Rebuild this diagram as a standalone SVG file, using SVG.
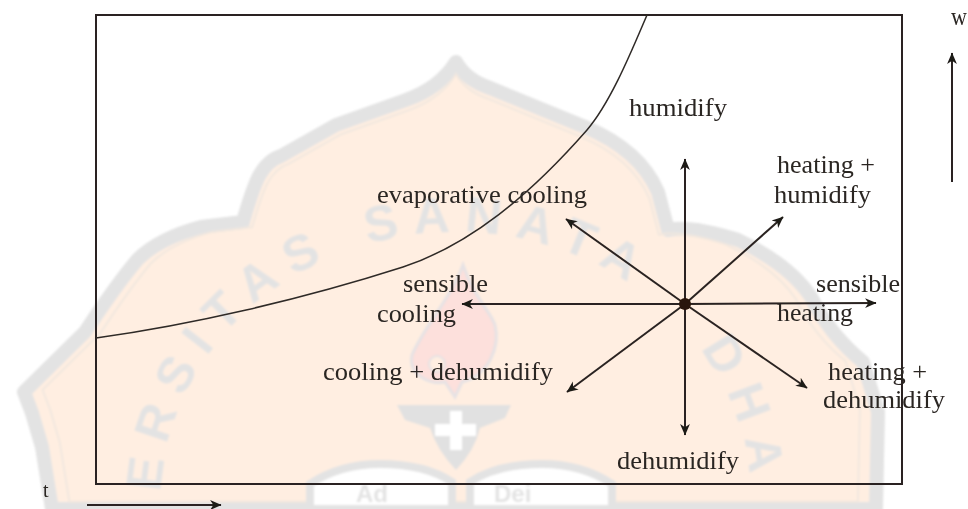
<svg xmlns="http://www.w3.org/2000/svg" width="968" height="509" viewBox="0 0 968 509">
<style>
.lbl{font-family:"Liberation Serif","Times New Roman",serif;font-size:25px;fill:#2b2623}
.wm{font-family:"Liberation Sans",Arial,sans-serif;font-weight:700;fill:#e3e3e3}
.ln{fill:none;stroke:#2a2420;stroke-width:2}
</style>
<defs>
<filter id="b1" x="-5%" y="-5%" width="110%" height="110%"><feGaussianBlur stdDeviation="1.1"/></filter>
<filter id="b2" x="-5%" y="-5%" width="110%" height="110%"><feGaussianBlur stdDeviation="0.5"/></filter>
<marker id="ah" markerUnits="userSpaceOnUse" markerWidth="12" markerHeight="12" refX="10" refY="5" orient="auto" viewBox="0 0 11 10"><path d="M0 0.5L10.5 5L0 9.5L3 5Z" fill="#1f1a17"/></marker>
<path id="seal" d="M52 509L42 447L32 413L24 392L85 332Q116 285 138 259Q160 238 201 227L243 222Q252 190 259 176Q268 160 281 156L336 125L406 100Q440 88 456 62Q466 80 490 88L585 127Q640 150 658 192L668 230Q690 225 738 240Q790 265 811 297Q830 335 863 362L878 412L876 509Z"/>
<path id="arc" d="M161 500A295 268 0 0 1 751 500"/>
</defs>
<rect width="968" height="509" fill="#fff"/>
<g id="watermark" filter="url(#b1)">
<use href="#seal" fill="#ffeee1" stroke="#e3e3e3" stroke-width="14" stroke-linejoin="round"/>
<use href="#seal" fill="none" stroke="#f1e7df" stroke-width="2" transform="translate(456 340) scale(.957) translate(-456 -340)"/>
<text class="wm" font-size="50" letter-spacing="14"><textPath href="#arc" startOffset="8">ERSITAS<tspan dx="34">SANATA</tspan><tspan dx="84">DHA</tspan></textPath></text>
<path d="M463 265C450 300 425 325 412 355C408 375 430 385 445 382L455 397L462 382C490 375 500 345 495 325C490 310 475 300 463 265Z" fill="#fde0dc" stroke="#e6e2e4" stroke-width="3"/>
<circle cx="437" cy="364" r="8" fill="#ffeee1" stroke="#e6e2e4" stroke-width="2"/>
<path d="M397 405L511 405L505 418L480 428Q475 450 456 470Q437 450 430 428L405 420Z" fill="#e1e1e1"/>
<path d="M450 411H462V424H476V436H462V450H450V436H435V424H450Z" fill="#fff"/>
<path d="M310 509V484Q340 464 380 464Q425 464 452 482V509Z" fill="#fff" stroke="#e3e3e3" stroke-width="8"/>
<path d="M612 509V484Q582 464 542 464Q497 464 470 482V509Z" fill="#fff" stroke="#e3e3e3" stroke-width="8"/>
<text class="wm" x="356" y="502" font-size="24">Ad</text>
<text class="wm" x="494" y="502" font-size="24">Dei</text>
</g>
<g id="frame" filter="url(#b2)"><rect class="ln" x="96" y="15" width="806" height="469"/></g>
<g id="connectors" filter="url(#b2)">
<path id="saturation-curve" d="M96 338C190 325 300 300 403 267C470 245 530 195 587 130C611 102 632 50 647 15" fill="none" stroke="#2f2a27" stroke-width="1.5"/>
<g class="ln">
<line x1="685" y1="304" x2="685" y2="159" marker-end="url(#ah)"/>
<line x1="685" y1="304" x2="685" y2="435" marker-end="url(#ah)"/>
<line x1="685" y1="304" x2="876" y2="303" marker-end="url(#ah)"/>
<line x1="685" y1="304" x2="462" y2="304" marker-end="url(#ah)"/>
<line x1="685" y1="304" x2="783" y2="217" marker-end="url(#ah)"/>
<line x1="685" y1="304" x2="566" y2="219" marker-end="url(#ah)"/>
<line x1="685" y1="304" x2="567" y2="392" marker-end="url(#ah)"/>
<line x1="685" y1="304" x2="807" y2="388" marker-end="url(#ah)"/>
<line x1="952" y1="182" x2="952" y2="53" marker-end="url(#ah)"/>
<line x1="87" y1="505" x2="221" y2="505" marker-end="url(#ah)"/>
</g>
</g>
<g id="state-point" filter="url(#b2)"><circle cx="685" cy="304" r="6" fill="#2a1408"/></g>
<g id="labels" filter="url(#b2)">
<g id="n-humidify"><text class="lbl" x="629" y="116" textLength="98" lengthAdjust="spacingAndGlyphs">humidify</text></g>
<g id="n-heating-humidify"><text class="lbl" x="777" y="173" textLength="98" lengthAdjust="spacingAndGlyphs">heating +</text><text class="lbl" x="774" y="203" textLength="97" lengthAdjust="spacingAndGlyphs">humidify</text></g>
<g id="n-evaporative"><text class="lbl" x="377" y="203" textLength="210" lengthAdjust="spacingAndGlyphs">evaporative cooling</text></g>
<g id="n-sensible-cooling"><text class="lbl" x="403" y="292" textLength="85" lengthAdjust="spacingAndGlyphs">sensible</text><text class="lbl" x="377" y="322" textLength="79" lengthAdjust="spacingAndGlyphs">cooling</text></g>
<g id="n-sensible-heating"><text class="lbl" x="816" y="292" textLength="84" lengthAdjust="spacingAndGlyphs">sensible</text><text class="lbl" x="777" y="321" textLength="76" lengthAdjust="spacingAndGlyphs">heating</text></g>
<g id="n-cooling-dehumidify"><text class="lbl" x="323" y="380" textLength="230" lengthAdjust="spacingAndGlyphs">cooling + dehumidify</text></g>
<g id="n-heating-dehumidify"><text class="lbl" x="828" y="380" textLength="99" lengthAdjust="spacingAndGlyphs">heating +</text><text class="lbl" x="823" y="408" textLength="122" lengthAdjust="spacingAndGlyphs">dehumidify</text></g>
<g id="n-dehumidify"><text class="lbl" x="617" y="469" textLength="122" lengthAdjust="spacingAndGlyphs">dehumidify</text></g>
<g id="axis-w"><text class="lbl" x="951" y="25" textLength="16" lengthAdjust="spacingAndGlyphs">w</text></g>
<g id="axis-t"><text class="lbl" x="43" y="497" style="font-size:20px">t</text></g>
</g>
</svg>
